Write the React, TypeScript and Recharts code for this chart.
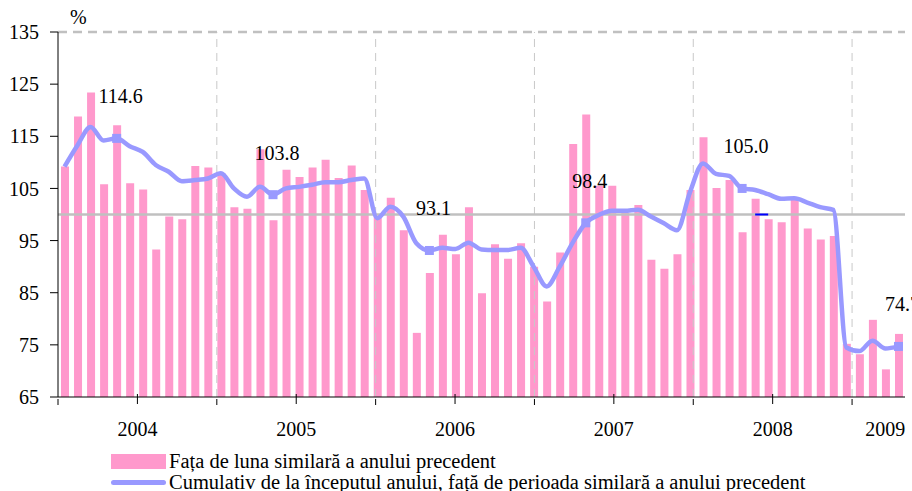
import React from 'react';
import { ComposedChart, Bar, Line, XAxis, YAxis, ReferenceLine, LabelList } from 'recharts';

const YEARS = ['2004', '2005', '2006', '2007', '2008', '2009'];
const MONTHS_IN_YEAR = [12, 12, 12, 12, 12, 5];

// Fata de luna similara a anului precedent (%)
const monthlyValues = [
  109.2, 118.8, 123.4, 105.8, 117.1, 106.0, 104.8, 93.3, 99.6, 99.1, 109.3, 109.0,
  107.9, 101.4, 101.1, 112.5, 98.9, 108.6, 107.2, 109.0, 110.5, 107.0, 109.4, 104.7,
  99.6, 103.2, 97.0, 77.3, 88.8, 96.1, 92.4, 101.4, 84.9, 94.3, 91.5, 94.5,
  90.0, 83.3, 92.7, 113.5, 119.2, 105.5, 105.5, 100.3, 101.8, 91.3, 89.6, 92.4,
  104.7, 114.8, 105.1, 106.6, 96.6, 103.0, 99.1, 98.5, 102.8, 97.3, 95.2, 95.9,
  75.2, 73.2, 79.8, 70.3, 77.1,
];

// Cumulativ de la inceputul anului (%)
const cumulativeValues = [
  109.2, 113.3, 116.8, 114.2, 114.6, 113.1, 112.0, 109.5, 108.2, 106.4, 106.6, 106.9,
  107.9, 105.0, 103.4, 105.3, 103.8, 105.0, 105.3, 105.7, 106.2, 106.2, 106.6, 106.9,
  99.3, 101.5, 99.6, 94.5, 93.1, 93.6, 93.4, 94.6, 93.3, 93.2, 93.2, 93.6,
  90.0, 86.2, 90.0, 94.6, 98.4, 99.9, 100.7, 100.7, 100.9, 99.6, 98.3, 97.0,
  104.3, 109.8, 107.8, 107.4, 105.0, 104.7, 103.9, 103.0, 103.1, 102.3, 101.4, 100.9,
  74.5, 73.8, 75.8, 74.3, 74.7,
];

const markedMonths = ['2004-05', '2005-05', '2006-05', '2007-05', '2008-05', '2009-05'];
const markedLabels = ['114.6', '103.8', '93.1', '98.4', '105.0', '74.7'];

const yTicks = [65, 75, 85, 95, 105, 115, 125, 135];
const yearTickPos = [6, 18, 30, 42, 54, 62.5];
const yearBounds = [12, 24, 36, 48, 60];

const months: string[] = [];
YEARS.forEach((y, i) => {
  for (let m = 1; m <= MONTHS_IN_YEAR[i]; m++) months.push(`${y}-${String(m).padStart(2, '0')}`);
});

const data = months.map((m, i) => {
  const k = markedMonths.indexOf(m);
  return {
    month: m,
    monthly: monthlyValues[i],
    cumulative: cumulativeValues[i],
    lbl: k >= 0 ? markedLabels[k] : null,
  };
});

const FONT = '"Liberation Serif", "DejaVu Serif", "Times New Roman", Times, serif';
const PINK = '#ff99cc';
const BLUE = '#9999ff';

const SquareDot = (props: any) => {
  const { cx, cy, payload, index } = props;
  if (!payload || !payload.lbl) return <g key={`d-${index}`} />;
  return <rect key={`d-${index}`} x={cx - 4.5} y={cy - 4.5} width={9} height={9} fill={BLUE} />;
};

const PointLabel = (props: any) => {
  const { x, y, value } = props;
  if (!value) return null;
  return (
    <text x={x + 4} y={y - 35} textAnchor="middle" style={{ fontFamily: FONT }} fontSize={20} fill="#000">
      {value}
    </text>
  );
};

const YearTick = (props: any) => {
  const { x, y, payload } = props;
  const v = payload.value;
  const yi = yearTickPos.indexOf(v);
  return (
    <g>
      {v % 12 === 0 && <line x1={x} x2={x} y1={y} y2={y + 6} stroke="#000" />}
      {v % 12 === 6 && <line x1={x} x2={x} y1={y - 5} y2={y + 5} stroke="#000" />}
      {yi >= 0 && (
        <text x={x} y={y + 37} textAnchor="middle" style={{ fontFamily: FONT }} fontSize={20} fill="#000">
          {YEARS[yi]}
        </text>
      )}
    </g>
  );
};

export default function App() {
  return (
    <div style={{ position: 'absolute', left: 0, top: 0, width: 912, height: 491, overflow: 'hidden', background: '#fff', fontFamily: FONT }}>
      <div style={{ position: 'absolute', left: 70, top: 6, fontSize: 20 }}>%</div>
      <ComposedChart width={912} height={491} data={data} margin={{ top: 32, right: 7, bottom: 54, left: 0 }}>
        <XAxis xAxisId="cat" dataKey="month" type="category" hide height={0} />
        <XAxis
          xAxisId="num"
          type="number"
          domain={[0, 65]}
          ticks={[0, 6, 12, 18, 24, 30, 36, 42, 48, 54, 60, 62.5]}
          interval={0}
          tickSize={0}
          tickLine={false}
          axisLine={{ stroke: '#000' }}
          tick={<YearTick />}
          height={40}
        />
        <YAxis
          domain={[65, 135]}
          ticks={yTicks}
          width={58}
          tickSize={8}
          tickMargin={11}
          axisLine={{ stroke: '#000' }}
          tickLine={{ stroke: '#000' }}
          tick={{ fontFamily: FONT, fontSize: 20, fill: '#000' }}
        />
        {yearBounds.map((b) => (
          <ReferenceLine key={b} xAxisId="num" x={b} stroke="#c8c8c8" strokeDasharray="8 6" />
        ))}
        <ReferenceLine xAxisId="num" y={135} stroke="#c0c0c0" strokeWidth={2.5} strokeDasharray="9 6" />
        <ReferenceLine xAxisId="num" x={65} stroke="#c0c0c0" strokeWidth={3} strokeDasharray="4 4" />
        <Bar xAxisId="cat" dataKey="monthly" fill={PINK} barSize={8} isAnimationActive={false} />
        <ReferenceLine xAxisId="num" y={100} stroke="#c0c0c0" strokeWidth={2.5} />
        <ReferenceLine
          xAxisId="cat"
          segment={[{ x: '2008-06', y: 100 }, { x: '2008-07', y: 100 }]}
          stroke="#0000ff"
          strokeWidth={2}
        />
        <Line
          xAxisId="cat"
          dataKey="cumulative"
          type="monotone"
          stroke={BLUE}
          strokeWidth={4.5}
          dot={<SquareDot />}
          activeDot={false}
          isAnimationActive={false}
        >
          <LabelList dataKey="lbl" content={<PointLabel />} />
        </Line>
      </ComposedChart>
      <div style={{ position: 'absolute', left: 111, top: 451, fontSize: 20.5, color: '#000', lineHeight: '21px', whiteSpace: 'nowrap' }}>
        <div style={{ display: 'flex', alignItems: 'center', height: 21 }}>
          <span style={{ display: 'inline-block', width: 55, height: 15, background: PINK, marginRight: 3 }} />
          <span>Fața de luna similară a anului precedent</span>
        </div>
        <div style={{ display: 'flex', alignItems: 'center', height: 21 }}>
          <span style={{ display: 'inline-block', width: 55, height: 5, borderRadius: 3, background: BLUE, marginRight: 3 }} />
          <span>Cumulativ de la începutul anului, față de perioada similară a anului precedent</span>
        </div>
      </div>
    </div>
  );
}
